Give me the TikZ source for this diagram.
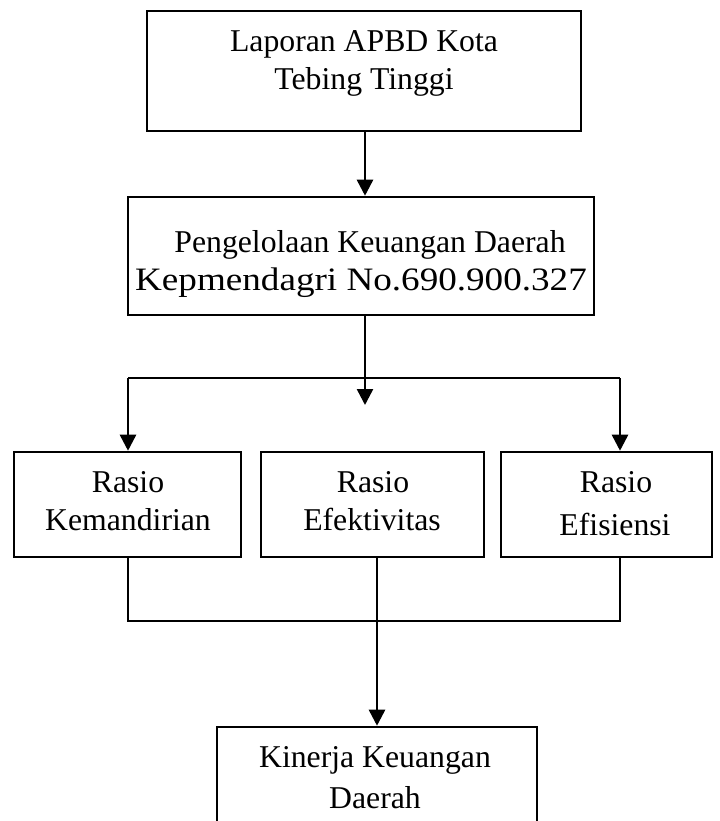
\documentclass[tikz,border=0pt]{standalone}
\usepackage{fontspec}
\setmainfont{Liberation Serif}
\usetikzlibrary{arrows.meta}
\begin{document}
\begin{tikzpicture}[x=0.75pt,y=-0.75pt,
  box/.style={draw=black,line width=1.9pt,rectangle,inner sep=0pt,fill=none},
  txt/.style={anchor=base,inner sep=0pt,font=\fontsize{23.8}{28}\selectfont},
  conn/.style={draw=black,line width=1.9pt},
  arr/.style={conn,-{Triangle[length=12pt,width=12pt]}}]
\useasboundingbox (0,0) rectangle (719,821);
% boxes
\node[box,minimum width=434*0.75pt,minimum height=120*0.75pt] (b1) at (364,71) {};
\node[box,minimum width=466*0.75pt,minimum height=118*0.75pt] (b2) at (361,256) {};
\node[box,minimum width=227*0.75pt,minimum height=105*0.75pt] (bA) at (127.5,504.5) {};
\node[box,minimum width=223*0.75pt,minimum height=105*0.75pt] (bB) at (372.5,504.5) {};
\node[box,minimum width=211*0.75pt,minimum height=105*0.75pt] (bC) at (606.5,504.5) {};
\node[box,minimum width=320*0.75pt,minimum height=113*0.75pt] (bD) at (377,783.5) {};
% texts
\node[txt] (t1a) at (364,51) {Laporan APBD Kota};
\node[txt] (t1b) at (364,89) {Tebing Tinggi};
\node[txt] (t2a) at (370,252) {Pengelolaan Keuangan Daerah};
\node[txt] (t2b) at (361,290) {\scalebox{1.17}[1.03]{Kepmendagri No.690.900.327}};
\node[txt] (tAa) at (128,492) {Rasio};
\node[txt] (tAb) at (128,530) {Kemandirian};
\node[txt] (tBa) at (373,492) {Rasio};
\node[txt] (tBb) at (372,530) {Efektivitas};
\node[txt] (tCa) at (616,492) {Rasio};
\node[txt] (tCb) at (615,535) {Efisiensi};
\node[txt] (tDa) at (375,767) {Kinerja Keuangan};
\node[txt] (tDb) at (375,808) {Daerah};
% connectors
\coordinate (c1) at (365,0);
\draw[arr] (b1.south -| c1) -- (b2.north -| c1);
\coordinate (mtip) at (365,405);
\draw[arr] (b2.south -| mtip) -- (mtip);
\coordinate (jL) at (128,378);
\coordinate (jR) at (620,378);
\draw[conn] (jL) -- (jR);
\draw[arr] (jL) -- (bA.north -| jL);
\draw[arr] (jR) -- (bC.north -| jR);
\coordinate (kA) at (128,621);
\coordinate (kC) at (620,621);
\coordinate (kB) at (377,621);
\draw[conn] (bA.south -| kA) -- (kA) -- (kC) -- (bC.south -| kC);
\draw[arr] (bB.south -| kB) -- (bD.north -| kB);
\end{tikzpicture}
\end{document}
